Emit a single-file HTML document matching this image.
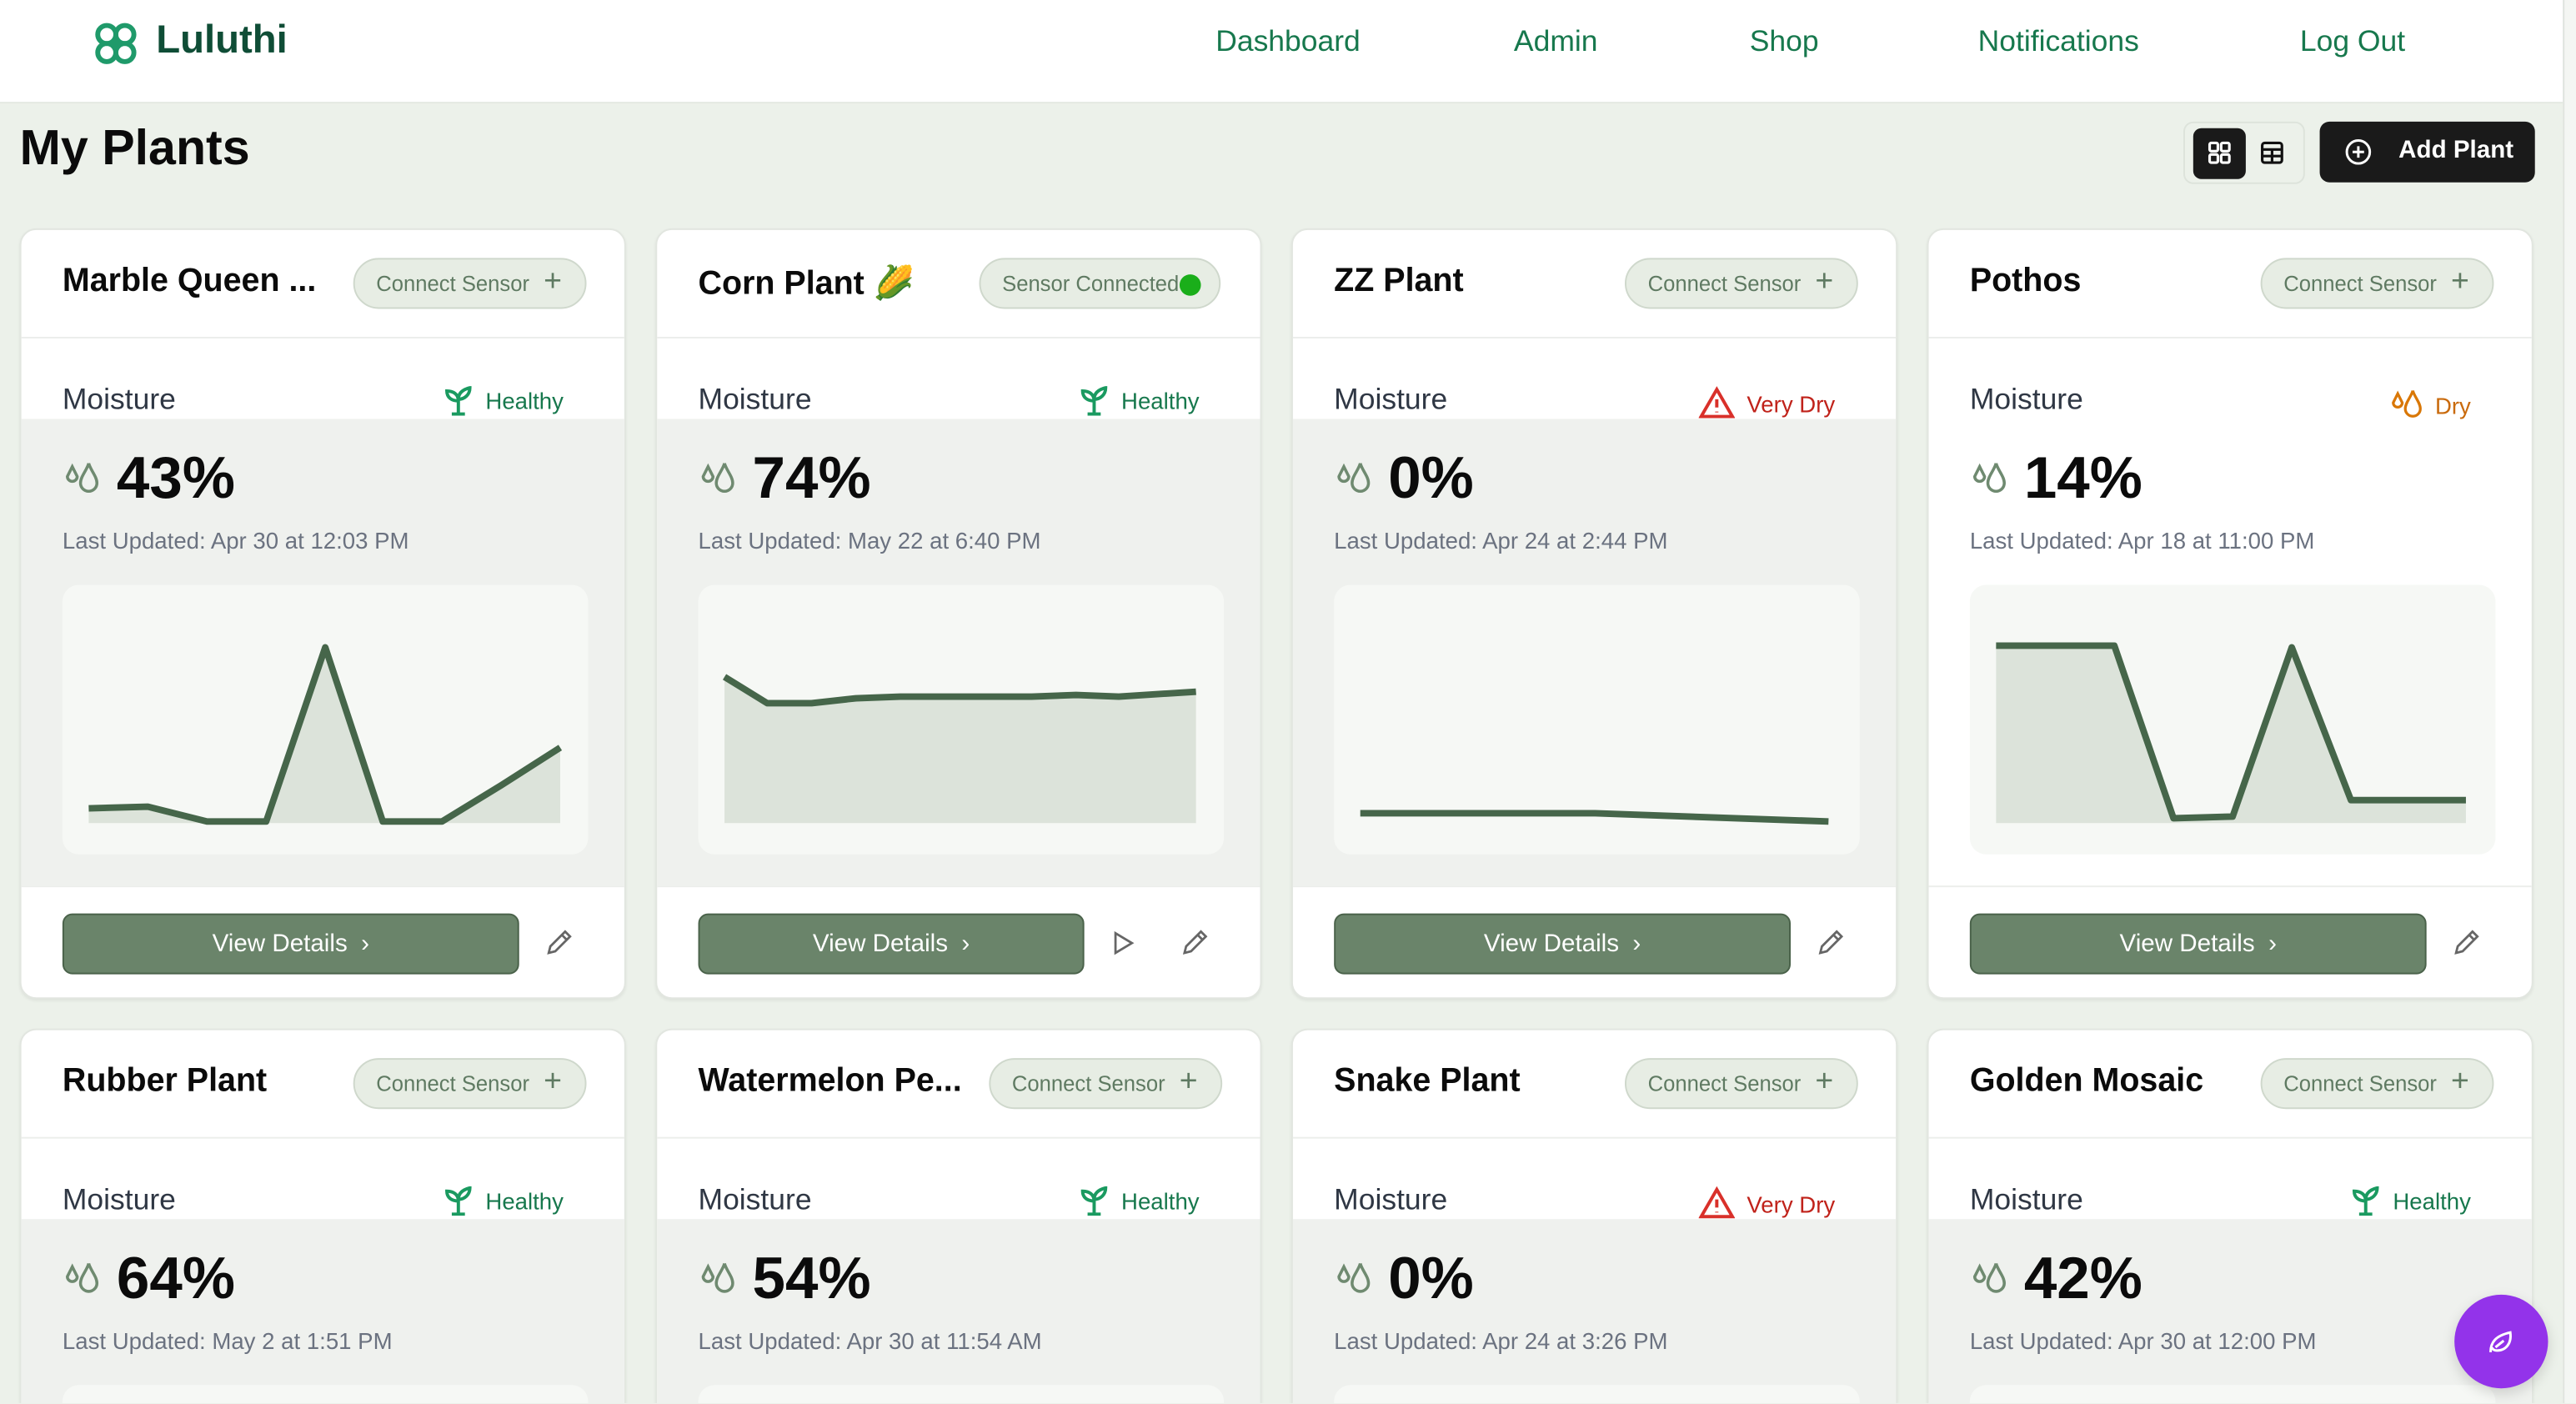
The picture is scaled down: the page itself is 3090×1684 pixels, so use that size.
<!DOCTYPE html>
<html><head><meta charset="utf-8">
<style>
*{box-sizing:border-box;margin:0;padding:0}
html,body{width:3090px;height:1684px;overflow:hidden;background:#ecf1ea;font-family:"Liberation Sans",sans-serif}
#c{position:absolute;left:0;top:0;width:3090px;height:1684px;overflow:hidden}
#w{position:absolute;left:0;top:0;width:1568px;height:854px;overflow:hidden;transform:scale(1.97066);transform-origin:0 0;background:#ecf1ea}
.nav{position:absolute;left:0;top:0;width:1560px;height:63px;background:#fff;border-bottom:1px solid #e3e8e1}
.logo{position:absolute;left:95px;top:11px;font-size:24px;font-weight:bold;color:#0f4d36}
.nl{position:absolute;top:15px;font-size:18px;color:#17784d;transform:translateX(-50%)}
.sb{position:absolute;left:1560px;top:0;width:8px;height:854px;background:#f4f6f3;border-left:1px solid #e0e4df}
h1{position:absolute;left:12px;top:74px;font-size:30px;font-weight:bold;color:#0b0b0b}
.tg{position:absolute;left:1329px;top:74px;width:74px;height:38px;border:1px solid #dde3db;border-radius:6px}
.tg .a{position:absolute;left:5px;top:3px;width:32px;height:31px;background:#1a1a1a;border-radius:5px}
.add{position:absolute;left:1412px;top:74px;width:131px;height:37px;background:#1a1a1a;border-radius:6px;color:#fff;font-size:15px;font-weight:bold}
.card{position:absolute;width:369px;height:469px;background:#fff;border:1px solid #e2e6e0;border-radius:10px;overflow:hidden;box-shadow:0 1px 2px rgba(0,0,0,.06)}
.r2{height:228px;border-bottom:0;border-radius:10px 10px 0 0}
.t{position:absolute;left:25px;top:20px;font-size:20px;font-weight:bold;color:#0b0b0b;white-space:nowrap}
.pill{position:absolute;left:202px;top:17px;width:142px;height:31px;border:1px solid #cfd8cc;background:#e7ede4;border-radius:16px;font-size:13px;color:#5f7a62;padding:7px 0 0 13px;white-space:nowrap}
.pill b{position:absolute;right:14px;top:3px;font-weight:normal;font-size:19px}
.hd{position:absolute;left:0;top:65px;width:100%;height:1px;background:#eceeeb}
.gray{position:absolute;left:0;top:115px;width:100%;height:284px;background:#eff1ee}
.m{position:absolute;left:25px;top:93px;font-size:18px;color:#2f3744}
.st{position:absolute;right:37px;top:95px;font-size:14px;white-space:nowrap}
.pc{position:absolute;left:58px;top:130px;font-size:36px;font-weight:bold;color:#0b0b0b}
.dr{position:absolute;left:25px;top:139px}
.lu{position:absolute;left:25px;top:181px;font-size:14px;color:#6b7280}
.ch{position:absolute;left:25px;top:216px;width:320px;height:164px;background:#f6f8f5;border-radius:10px}
.r2 .ch{height:11px;border-radius:10px 10px 0 0}
.fd{position:absolute;left:0;top:399px;width:100%;height:1px;background:#eceeeb}
.btn{position:absolute;left:25px;top:416px;height:37px;background:#6a846a;border:1px solid #4a624a;border-radius:6px;color:#fff;font-size:15px;text-align:center;padding-top:9px}
.pen{position:absolute;left:318px;top:425px}
</style></head><body><div id="c"><div id="w">
<div class="nav">
<svg style="position:absolute;left:57px;top:13px" width="27" height="27" viewBox="0 0 27 27" fill="none" stroke="#1f9a6a" stroke-width="3"><circle cx="8" cy="8" r="5.5"/><circle cx="19" cy="8" r="5.5"/><circle cx="8" cy="19" r="5.5"/><circle cx="19" cy="19" r="5.5"/><circle cx="13.5" cy="13.5" r="2" fill="#1f9a6a"/></svg>
<div class="logo">Luluthi</div>
<div class="nl" style="left:784px">Dashboard</div>
<div class="nl" style="left:947px">Admin</div>
<div class="nl" style="left:1086px">Shop</div>
<div class="nl" style="left:1253px">Notifications</div>
<div class="nl" style="left:1432px">Log Out</div>
</div>
<div class="sb"></div>
<h1>My Plants</h1>
<div class="tg"><div class="a"><svg style="position:absolute;left:9px;top:8px" width="14" height="14" viewBox="0 0 14 14" fill="none" stroke="#fff" stroke-width="1.6"><rect x="1" y="1" width="5" height="5" rx="1"/><rect x="8" y="1" width="5" height="5" rx="1"/><rect x="1" y="8" width="5" height="5" rx="1"/><rect x="8" y="8" width="5" height="5" rx="1"/></svg></div><svg style="position:absolute;left:46px;top:11px" width="14" height="14" viewBox="0 0 14 14" fill="none" stroke="#111" stroke-width="1.6"><rect x="1" y="1" width="12" height="12" rx="1.5"/><path d="M1 5h12M1 9h12M7 5v8"/></svg></div>
<div class="add"><svg style="position:absolute;left:15px;top:10px" width="17" height="17" viewBox="0 0 17 17" fill="none" stroke="#fff" stroke-width="1.5"><circle cx="8.5" cy="8.5" r="7"/><path d="M8.5 5v7M5 8.5h7"/></svg><span style="position:absolute;left:48px;top:9px">Add Plant</span></div>

<div class="card" style="left:12px;top:139px"><div class="gray"></div><div class="t">Marble Queen ...</div><div class="pill">Connect Sensor<b>+</b></div><div class="hd"></div><div class="m">Moisture</div>
<div class="st" style="color:#17784d"><svg width="18" height="18" viewBox="0 0 18 18" fill="none" stroke="#1a9a60" stroke-width="2" style="vertical-align:-4px;margin-right:8px"><path d="M9 17V8M5 17h8M9 9C9 5 6 3 2 3c0 4 3 6 7 6zM9 8c0-4 3-6 7-7 0 4-3 7-7 7"/></svg>Healthy</div>
<svg class="dr" width="24" height="24" viewBox="0 0 24 24" fill="none" stroke="#6f8a70" stroke-width="1.8"><path d="M6 5l-3 6a3 3 0 006 0zM16 3c-1 4-5 8-5 12a5 5 0 0010 0c0-4-4-8-5-12"/></svg>
<div class="pc">43%</div><div class="lu">Last Updated: Apr 30 at 12:03 PM</div>
<div class="ch"><svg width="320" height="164"><polygon points="16,136 52,135 88,144 124,144 160,38 195,144 231,144 267,122 303,99 303,145 16,145" fill="#dce3da"/><polyline points="16,136 52,135 88,144 124,144 160,38 195,144 231,144 267,122 303,99" fill="none" stroke="#46664a" stroke-width="4" stroke-linejoin="round"/></svg></div>
<div class="fd"></div><div class="btn" style="width:278px">View Details &nbsp;›</div>
<svg class="pen" width="18" height="18" viewBox="0 0 18 18" fill="none" stroke="#666" stroke-width="1.4"><path d="M3 15l1-4 9-9 3 3-9 9zM11 4l3 3"/></svg></div>

<div class="card" style="left:399px;top:139px"><div class="gray"></div><div class="t">Corn Plant 🌽</div><div class="pill" style="width:147px;left:196px">Sensor Connected<span style="position:absolute;right:11px;top:9px;width:13px;height:13px;border-radius:50%;background:#1aae1a"></span></div><div class="hd"></div><div class="m">Moisture</div>
<div class="st" style="color:#17784d"><svg width="18" height="18" viewBox="0 0 18 18" fill="none" stroke="#1a9a60" stroke-width="2" style="vertical-align:-4px;margin-right:8px"><path d="M9 17V8M5 17h8M9 9C9 5 6 3 2 3c0 4 3 6 7 6zM9 8c0-4 3-6 7-7 0 4-3 7-7 7"/></svg>Healthy</div>
<svg class="dr" width="24" height="24" viewBox="0 0 24 24" fill="none" stroke="#6f8a70" stroke-width="1.8"><path d="M6 5l-3 6a3 3 0 006 0zM16 3c-1 4-5 8-5 12a5 5 0 0010 0c0-4-4-8-5-12"/></svg>
<div class="pc">74%</div><div class="lu">Last Updated: May 22 at 6:40 PM</div>
<div class="ch"><svg width="320" height="164"><polygon points="16,56 42,72 69,72 96,69 123,68 150,68 176,68 203,68 230,67 256,68 303,65 303,145 16,145" fill="#dce3da"/><polyline points="16,56 42,72 69,72 96,69 123,68 150,68 176,68 203,68 230,67 256,68 303,65" fill="none" stroke="#46664a" stroke-width="4" stroke-linejoin="round"/></svg></div>
<div class="fd"></div><div class="btn" style="width:235px">View Details &nbsp;›</div>
<svg style="position:absolute;left:276px;top:426px" width="16" height="16" viewBox="0 0 16 16" fill="none" stroke="#666" stroke-width="1.4"><path d="M3 2l10 6-10 6z"/></svg>
<svg class="pen" width="18" height="18" viewBox="0 0 18 18" fill="none" stroke="#666" stroke-width="1.4"><path d="M3 15l1-4 9-9 3 3-9 9zM11 4l3 3"/></svg></div>

<div class="card" style="left:786px;top:139px"><div class="gray"></div><div class="t">ZZ Plant</div><div class="pill">Connect Sensor<b>+</b></div><div class="hd"></div><div class="m">Moisture</div>
<div class="st" style="color:#c0221a"><svg width="22" height="20" viewBox="0 0 22 20" fill="none" stroke="#d9302a" stroke-width="2" style="vertical-align:-4px;margin-right:7px"><path d="M11 2L1.5 18.5h19zM11 8v5M11 15.5v.5"/></svg>Very Dry</div>
<svg class="dr" width="24" height="24" viewBox="0 0 24 24" fill="none" stroke="#6f8a70" stroke-width="1.8"><path d="M6 5l-3 6a3 3 0 006 0zM16 3c-1 4-5 8-5 12a5 5 0 0010 0c0-4-4-8-5-12"/></svg>
<div class="pc">0%</div><div class="lu">Last Updated: Apr 24 at 2:44 PM</div>
<div class="ch"><svg width="320" height="164"><polyline points="16,139 159,139 301,144" fill="none" stroke="#46664a" stroke-width="4"/></svg></div>
<div class="fd"></div><div class="btn" style="width:278px">View Details &nbsp;›</div>
<svg class="pen" width="18" height="18" viewBox="0 0 18 18" fill="none" stroke="#666" stroke-width="1.4"><path d="M3 15l1-4 9-9 3 3-9 9zM11 4l3 3"/></svg></div>

<div class="card" style="left:1173px;top:139px"><div class="t">Pothos</div><div class="pill">Connect Sensor<b>+</b></div><div class="hd"></div><div class="m">Moisture</div>
<div class="st" style="color:#c96a0c"><svg width="22" height="22" viewBox="0 0 24 24" fill="none" stroke="#d97706" stroke-width="1.8" style="vertical-align:-5px;margin-right:6px"><path d="M6 5l-3 6a3 3 0 006 0zM16 3c-1 4-5 8-5 12a5 5 0 0010 0c0-4-4-8-5-12"/></svg>Dry</div>
<svg class="dr" width="24" height="24" viewBox="0 0 24 24" fill="none" stroke="#6f8a70" stroke-width="1.8"><path d="M6 5l-3 6a3 3 0 006 0zM16 3c-1 4-5 8-5 12a5 5 0 0010 0c0-4-4-8-5-12"/></svg>
<div class="pc">14%</div><div class="lu">Last Updated: Apr 18 at 11:00 PM</div>
<div class="ch"><svg width="320" height="164"><polygon points="16,37 88,37 124,142 160,141 196,38 232,131 302,131 302,145 16,145" fill="#dce3da"/><polyline points="16,37 88,37 124,142 160,141 196,38 232,131 302,131" fill="none" stroke="#46664a" stroke-width="4" stroke-linejoin="round"/></svg></div>
<div class="fd"></div><div class="btn" style="width:278px">View Details &nbsp;›</div>
<svg class="pen" width="18" height="18" viewBox="0 0 18 18" fill="none" stroke="#666" stroke-width="1.4"><path d="M3 15l1-4 9-9 3 3-9 9zM11 4l3 3"/></svg></div>

<div class="card r2" style="left:12px;top:626px"><div class="gray"></div><div class="t">Rubber Plant</div><div class="pill">Connect Sensor<b>+</b></div><div class="hd"></div><div class="m">Moisture</div>
<div class="st" style="color:#17784d"><svg width="18" height="18" viewBox="0 0 18 18" fill="none" stroke="#1a9a60" stroke-width="2" style="vertical-align:-4px;margin-right:8px"><path d="M9 17V8M5 17h8M9 9C9 5 6 3 2 3c0 4 3 6 7 6zM9 8c0-4 3-6 7-7 0 4-3 7-7 7"/></svg>Healthy</div>
<svg class="dr" width="24" height="24" viewBox="0 0 24 24" fill="none" stroke="#6f8a70" stroke-width="1.8"><path d="M6 5l-3 6a3 3 0 006 0zM16 3c-1 4-5 8-5 12a5 5 0 0010 0c0-4-4-8-5-12"/></svg>
<div class="pc">64%</div><div class="lu">Last Updated: May 2 at 1:51 PM</div><div class="ch"></div></div>

<div class="card r2" style="left:399px;top:626px"><div class="gray"></div><div class="t">Watermelon Pe...</div><div class="pill">Connect Sensor<b>+</b></div><div class="hd"></div><div class="m">Moisture</div>
<div class="st" style="color:#17784d"><svg width="18" height="18" viewBox="0 0 18 18" fill="none" stroke="#1a9a60" stroke-width="2" style="vertical-align:-4px;margin-right:8px"><path d="M9 17V8M5 17h8M9 9C9 5 6 3 2 3c0 4 3 6 7 6zM9 8c0-4 3-6 7-7 0 4-3 7-7 7"/></svg>Healthy</div>
<svg class="dr" width="24" height="24" viewBox="0 0 24 24" fill="none" stroke="#6f8a70" stroke-width="1.8"><path d="M6 5l-3 6a3 3 0 006 0zM16 3c-1 4-5 8-5 12a5 5 0 0010 0c0-4-4-8-5-12"/></svg>
<div class="pc">54%</div><div class="lu">Last Updated: Apr 30 at 11:54 AM</div><div class="ch"></div></div>

<div class="card r2" style="left:786px;top:626px"><div class="gray"></div><div class="t">Snake Plant</div><div class="pill">Connect Sensor<b>+</b></div><div class="hd"></div><div class="m">Moisture</div>
<div class="st" style="color:#c0221a"><svg width="22" height="20" viewBox="0 0 22 20" fill="none" stroke="#d9302a" stroke-width="2" style="vertical-align:-4px;margin-right:7px"><path d="M11 2L1.5 18.5h19zM11 8v5M11 15.5v.5"/></svg>Very Dry</div>
<svg class="dr" width="24" height="24" viewBox="0 0 24 24" fill="none" stroke="#6f8a70" stroke-width="1.8"><path d="M6 5l-3 6a3 3 0 006 0zM16 3c-1 4-5 8-5 12a5 5 0 0010 0c0-4-4-8-5-12"/></svg>
<div class="pc">0%</div><div class="lu">Last Updated: Apr 24 at 3:26 PM</div><div class="ch"></div></div>

<div class="card r2" style="left:1173px;top:626px"><div class="gray"></div><div class="t">Golden Mosaic</div><div class="pill">Connect Sensor<b>+</b></div><div class="hd"></div><div class="m">Moisture</div>
<div class="st" style="color:#17784d"><svg width="18" height="18" viewBox="0 0 18 18" fill="none" stroke="#1a9a60" stroke-width="2" style="vertical-align:-4px;margin-right:8px"><path d="M9 17V8M5 17h8M9 9C9 5 6 3 2 3c0 4 3 6 7 6zM9 8c0-4 3-6 7-7 0 4-3 7-7 7"/></svg>Healthy</div>
<svg class="dr" width="24" height="24" viewBox="0 0 24 24" fill="none" stroke="#6f8a70" stroke-width="1.8"><path d="M6 5l-3 6a3 3 0 006 0zM16 3c-1 4-5 8-5 12a5 5 0 0010 0c0-4-4-8-5-12"/></svg>
<div class="pc">42%</div><div class="lu">Last Updated: Apr 30 at 12:00 PM</div><div class="ch"></div></div>

<div style="position:absolute;left:1494px;top:788px;width:57px;height:57px;border-radius:50%;background:#9333ea;box-shadow:0 3px 8px rgba(0,0,0,.15)"><svg style="position:absolute;left:19px;top:19px" width="19" height="19" viewBox="0 0 19 19" fill="none" stroke="#fff" stroke-width="1.5"><path d="M3 16c0-6 3-10 12-12 1 7-3 11-8 11-2 0-3-1-3-2M6 13l5-4"/></svg></div>
</div></div></body></html>
